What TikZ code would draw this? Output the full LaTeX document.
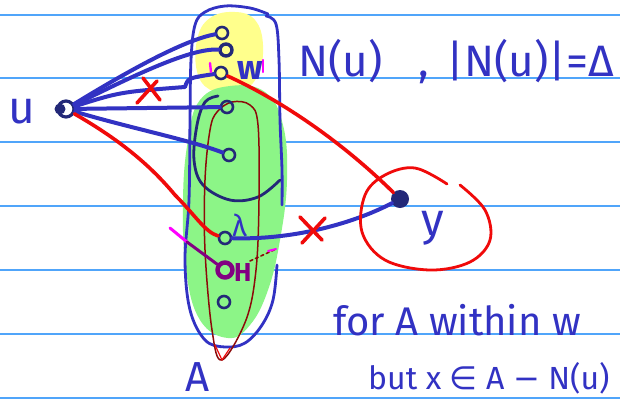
\documentclass[tikz,border=0pt]{standalone}
\usepackage{fontspec}
\setsansfont{Fira Sans}
\newfontfamily\dvfont{DejaVu Sans}
\definecolor{ink}{RGB}{50,50,195}
\definecolor{navy}{RGB}{35,40,120}
\definecolor{rulec}{RGB}{80,165,250}
\definecolor{yel}{RGB}{255,255,140}
\definecolor{grn}{RGB}{140,245,135}
\definecolor{pen}{RGB}{240,10,10}
\definecolor{darkred}{RGB}{140,10,10}
\definecolor{purp}{RGB}{130,0,130}
\definecolor{mag}{RGB}{255,0,255}
\begin{document}
\begin{tikzpicture}[x=1pt,y=-1pt, line cap=round, line join=round,
  vtx/.style={circle, draw=navy, line width=2.6pt, minimum size=12pt, inner sep=0pt},
  edge/.style={draw=ink, line width=4pt},
  redge/.style={draw=pen, line width=3.6pt},
  hand/.style={text=ink, inner sep=0pt},
  outl/.style={draw=ink, line width=2.8pt},
]
\useasboundingbox (0,0) rectangle (620,405);
\clip (0,0) rectangle (620,405);
\fill[white] (0,0) rectangle (620,405);
\foreach \yy in {15,78,142,206,270,334,398} \draw[rulec, line width=1.3pt] (0,\yy) -- (620,\yy);

% blobs
\fill[yel] plot[smooth cycle, tension=0.7] coordinates {(235,12) (255,20) (263,45) (258,75) (240,92) (215,92) (198,75) (197,40) (210,18)};
\fill[grn] plot[smooth cycle, tension=0.7] coordinates {(230,86) (265,92) (283,125) (287,180) (280,240) (268,290) (250,325) (228,338) (200,320) (186,270) (183,200) (188,140) (200,100)};

% outlines
\draw[outl] plot[smooth, tension=0.6] coordinates {(268,14) (250,8) (225,6) (205,12) (195,25) (191,60) (190,120) (189,200) (185,260) (190,310) (205,340) (225,347) (245,343) (262,325) (273,300) (277,265)};
\draw[outl] plot[smooth, tension=0.6] coordinates {(266,16) (276,24) (279,60) (280,120) (282,170) (282,205)};
\draw[draw=navy, line width=2.8pt] plot[smooth, tension=0.6] coordinates {(218,96) (205,102) (197,125) (194,160) (203,185) (230,200) (258,197) (280,180)};
\draw[darkred, line width=1.5pt] plot[smooth cycle, tension=0.6] coordinates {(232,102) (250,105) (258,125) (259,200) (256,270) (246,320) (222,360) (212,330) (205,250) (205,180) (210,130) (217,112)};
\draw[pen, line width=1.2pt] (215,345) -- (222,360) -- (230,348);

% nodes
\node[circle, draw=navy, line width=3.2pt, fill=white, minimum size=16pt, inner sep=0pt] (u) at (66,109) {};
\fill[navy] (60,109) circle (5.5);
\node[vtx] (n1) at (222,33) {};
\node[vtx, line width=3.4pt, minimum size=12pt] (n2) at (226,50) {};
\node[vtx] (n3) at (221,73) {};
\node[vtx] (n4) at (227,107) {};
\node[vtx] (n5) at (229,155) {};
\node[vtx] (a1) at (225,238) {};
\node[circle, draw=purp, line width=4.5pt, minimum size=15pt, inner sep=0pt] (a2) at (225,270) {};
\node[vtx] (a3) at (224,302) {};
\node[circle, fill=navy, minimum size=18pt, inner sep=0pt] (y) at (400,199) {};

% blue edges from u
\draw[edge] (u) .. controls (133,68) and (185,40) .. (n1);
\draw[edge] (u) .. controls (133,76) and (190,48) .. (n2);
\draw[edge] (u) .. controls (120,92) .. (185,87) .. controls (188,78) .. (n3);
\draw[edge] (u) -- (n4);
\draw[edge] (u) .. controls (130,128) and (190,140) .. (n5);
\draw[redge] (143,78) -- (160,100);
\draw[redge] (137,103) -- (157,81);

% red edges
\draw[redge] (u) .. controls (120,140) and (150,165) .. (175,195) .. controls (195,215) and (205,232) .. (a1);
\draw[redge] (n3) .. controls (280,100) and (340,140) .. (y);
\draw[edge] (a1) .. controls (290,240) and (350,225) .. (y);
\draw[redge] (300,217) -- (322,240);
\draw[redge] (302,243) -- (325,218);

% ring around y
\draw[pen, line width=2.8pt] plot[smooth, tension=0.6] coordinates {(460,185) (485,210) (490,240) (470,262) (430,270) (385,260) (362,232) (365,195) (385,175) (415,168) (447,184)};

% purple marks
\coordinate (mstart) at (170,228);
\coordinate (mmid) at (187,242);
\coordinate (dend) at (276,249);
\draw[mag, line width=3pt] (mstart) -- (mmid);
\draw[purp, line width=3pt] (mmid) -- (a2);
\draw[darkred, dashed, line width=1.6pt] (250,261) -- (dend);
\draw[mag, line width=2pt] (268,251) -- (dend);
\draw[mag, line width=2.4pt] (210,63) -- (211,72);
\draw[mag, line width=2.4pt] (263,60) -- (263,72);

% labels
\node[hand, anchor=base west, font=\sffamily\fontsize{46}{46}\selectfont] (lu) at (8,123) {u};
\node[hand, anchor=base west, font=\sffamily\fontsize{34}{34}\selectfont\bfseries] (lw) at (237,79) {w};
\node[hand, anchor=base west, font=\sffamily\fontsize{44}{44}\selectfont] (lnu) at (298,76) {N(u)};
\node[hand, anchor=base west, font=\sffamily\fontsize{44}{44}\selectfont] (ldeg) at (418,76) {,\hspace{18pt}|N(u)|=Δ};
\node[hand, anchor=base west, font=\sffamily\fontsize{30}{30}\selectfont] (lx) at (232,236) {λ};
\node[text=purp, inner sep=0pt, anchor=base west, font=\sffamily\fontsize{26}{26}\selectfont\bfseries] (lh) at (234,281) {H};
\node[hand, anchor=base, font=\sffamily\fontsize{46}{46}\selectfont] (ly) at (433,235) {y};
\node[hand, anchor=base, font=\sffamily\fontsize{42}{42}\selectfont] (la) at (198,391) {A};
\node[hand, anchor=base west, font=\sffamily\fontsize{40}{40}\selectfont] (t1) at (333,335) {for A within w};
\node[hand, anchor=base west, font=\sffamily\fontsize{32}{32}\selectfont] (t2) at (368,389) {but x {\dvfont ∈} A {\dvfont −} N(u)};
\end{tikzpicture}
\end{document}
